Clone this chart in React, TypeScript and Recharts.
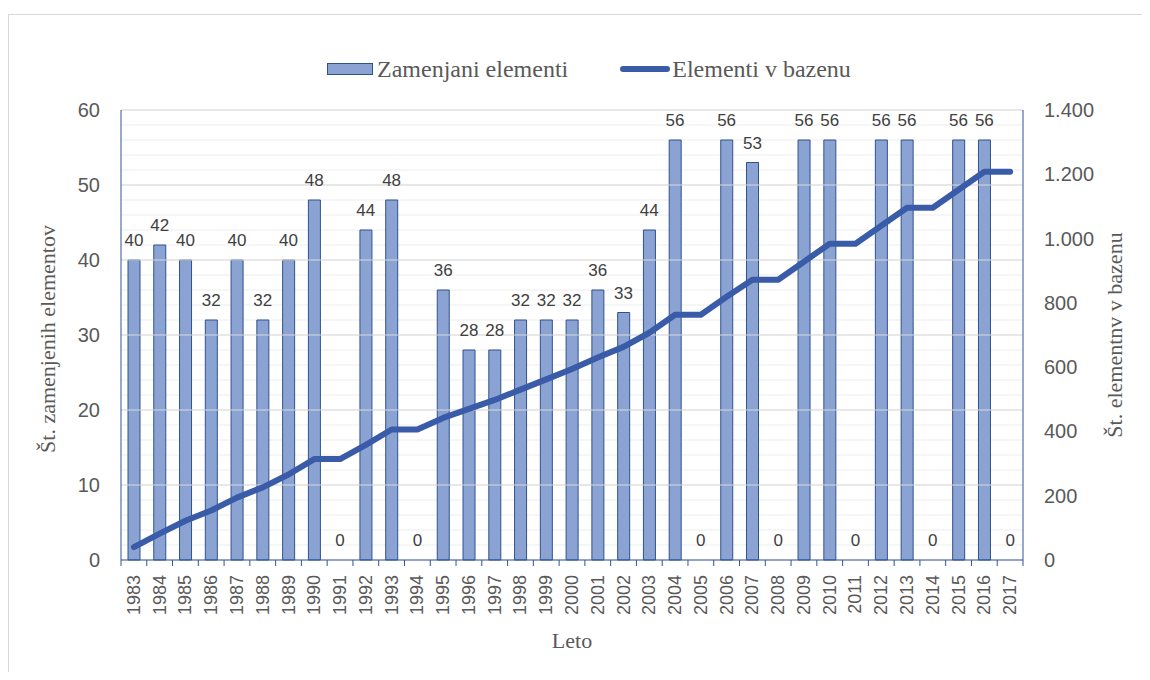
import React from 'react';
import { ComposedChart, Bar, Line, XAxis, YAxis, CartesianGrid, LabelList, ReferenceLine, Label } from 'recharts';

const years = ['1983','1984','1985','1986','1987','1988','1989','1990','1991','1992','1993','1994','1995','1996','1997','1998','1999','2000','2001','2002','2003','2004','2005','2006','2007','2008','2009','2010','2011','2012','2013','2014','2015','2016','2017'];
const replaced = [40,42,40,32,40,32,40,48,0,44,48,0,36,28,28,32,32,32,36,33,44,56,0,56,53,0,56,56,0,56,56,0,56,56,0];
const inPool = [40,82,122,154,194,226,266,314,314,358,406,406,442,470,498,530,562,594,630,663,707,763,763,819,872,872,928,984,984,1040,1096,1096,1152,1208,1208];
const leftTicks = [0,2,4,6,8,10,12,14,16,18,20,22,24,26,28,30,32,34,36,38,40,42,44,46,48,50,52,54,56,58,60];
const leftMajor = [10,20,30,40,50,60];
const rightTicks = [0,200,400,600,800,1000,1200,1400];

const seriesBarName = 'Zamenjani elementi';
const seriesLineName = 'Elementi v bazenu';
const leftTitle = 'Št. zamenjenih elementov';
const rightTitle = 'Št. elementnv v bazenu';
const xTitle = 'Leto';

const data = years.map((y, i) => ({ year: y, replaced: replaced[i], pool: inPool[i] }));

const AXIS = '#2f5597';
const BAR_FILL = '#8ba3d3';
const BAR_STROKE = '#2f528f';
const LINE = '#3a5ca8';
const TXT = '#595959';
const SANS = '"Liberation Sans", Arial, sans-serif';
const SERIF = '"Liberation Serif", "Times New Roman", serif';

const fmtDots = (v: number) => String(v).replace(/\B(?=(\d{3})+(?!\d))/g, '.');

const XTick = (props: any) => {
  const { x, y, payload, index, visibleTicksCount } = props;
  const off = payload && typeof payload.offset === 'number' ? payload.offset : 0;
  const axisY = y;
  const ty = axisY + 15;
  const last = index === (visibleTicksCount ?? years.length) - 1;
  return (
    <g>
      <line x1={x - off} x2={x - off} y1={axisY} y2={axisY + 6} stroke={AXIS} strokeWidth={1} />
      {last ? <line x1={x + off} x2={x + off} y1={axisY} y2={axisY + 6} stroke={AXIS} strokeWidth={1} /> : null}
      <text x={x} y={ty} transform={`rotate(-90, ${x}, ${ty})`} textAnchor="end" dominantBaseline="central" fill={TXT} fontSize={18} fontFamily={SANS}>
        {payload.value}
      </text>
    </g>
  );
};

const LeftTick = (props: any) => {
  const { x, y, payload } = props;
  if (payload.value % 10 !== 0) return <g />;
  return (
    <text x={x} y={y} textAnchor="end" dominantBaseline="central" fill={TXT} fontSize={20} fontFamily={SANS}>
      {payload.value}
    </text>
  );
};

const RightTick = (props: any) => {
  const { x, y, payload } = props;
  return (
    <text x={x} y={y} textAnchor="start" dominantBaseline="central" fill={TXT} fontSize={20} fontFamily={SANS}>
      {fmtDots(payload.value)}
    </text>
  );
};

const leftTitleContent = (props: any) => {
  const vb = props.viewBox || { x: 0, y: 102, width: 113, height: 450 };
  const cx = vb.x + 39;
  const cy = vb.y + vb.height / 2 + 4;
  return (
    <text x={cx} y={cy} transform={`rotate(-90, ${cx}, ${cy})`} textAnchor="middle" dominantBaseline="central" fill={TXT} fontSize={22} fontFamily={SERIF}>
      {leftTitle}
    </text>
  );
};

const rightTitleContent = (props: any) => {
  const vb = props.viewBox || { x: 1015, y: 102, width: 119, height: 450 };
  const cx = vb.x + 91;
  const cy = vb.y + vb.height / 2;
  return (
    <text x={cx} y={cy} transform={`rotate(-90, ${cx}, ${cy})`} textAnchor="middle" dominantBaseline="central" fill={TXT} fontSize={22} fontFamily={SERIF}>
      {rightTitle}
    </text>
  );
};

const xTitleContent = (props: any) => {
  const vb = props.viewBox || { x: 113, y: 552, width: 902, height: 112 };
  const cx = vb.x + vb.width / 2;
  const cy = vb.y + 80;
  return (
    <text x={cx} y={cy} textAnchor="middle" dominantBaseline="central" fill={TXT} fontSize={22} fontFamily={SERIF}>
      {xTitle}
    </text>
  );
};

export default function App() {
  return (
    <div style={{ position: 'relative', width: 1134, height: 664, overflow: 'hidden', background: '#fff' }}>
      <div style={{ position: 'absolute', left: 0, top: 6, width: 1200, height: 800, border: '1px solid #d9d9d9', boxSizing: 'border-box' }} />
      <div style={{ position: 'absolute', left: 319, top: 48, height: 26, display: 'flex', alignItems: 'center', fontFamily: SERIF, fontSize: 24, color: TXT, whiteSpace: 'nowrap' }}>
        <svg width={46} height={13} style={{ marginRight: 4 }}>
          <rect x={0.5} y={0.5} width={45} height={11} fill={BAR_FILL} stroke={BAR_STROKE} strokeWidth={1} />
        </svg>
        <span>{seriesBarName}</span>
        <svg width={50} height={10} style={{ marginLeft: 52, marginRight: 2 }}>
          <line x1={3} x2={47} y1={5} y2={5} stroke={LINE} strokeWidth={6} strokeLinecap="round" />
        </svg>
        <span>{seriesLineName}</span>
      </div>
      <div style={{ position: 'absolute', left: 0, top: 0 }}>
        <ComposedChart width={1134} height={664} data={data} margin={{ top: 102, right: 0, bottom: 0, left: 0 }} barSize={12}>
          <CartesianGrid yAxisId="left" vertical={false} stroke="#ededed" strokeWidth={1} />
          {leftMajor.map((v) => (
            <ReferenceLine key={v} yAxisId="left" y={v} stroke="#d9d9d9" strokeWidth={1} ifOverflow="visible" />
          ))}
          <XAxis dataKey="year" height={112} interval={0} tickLine={false} tickSize={0} tickMargin={0} axisLine={{ stroke: AXIS }} tick={<XTick />}>
            <Label content={xTitleContent} />
          </XAxis>
          <YAxis yAxisId="left" width={113} domain={[0, 60]} ticks={leftTicks} interval={0} tickLine={false} tickSize={6} tickMargin={15} axisLine={{ stroke: AXIS }} tick={<LeftTick />}>
            <Label content={leftTitleContent} />
          </YAxis>
          <YAxis yAxisId="right" orientation="right" width={119} domain={[0, 1400]} ticks={rightTicks} interval={0} tickLine={false} tickSize={6} tickMargin={15} axisLine={{ stroke: AXIS }} tick={<RightTick />}>
            <Label content={rightTitleContent} />
          </YAxis>
          <Bar yAxisId="left" dataKey="replaced" name={seriesBarName} fill={BAR_FILL} stroke={BAR_STROKE} strokeWidth={1} isAnimationActive={false} />
          <Line yAxisId="right" dataKey="pool" name={seriesLineName} stroke={LINE} strokeWidth={6} strokeLinecap="round" strokeLinejoin="round" dot={false} activeDot={false} isAnimationActive={false} />
          <Line yAxisId="left" dataKey="replaced" legendType="none" stroke="none" strokeWidth={0} dot={false} activeDot={false} isAnimationActive={false}>
            <LabelList dataKey="replaced" position="top" offset={14} fill="#404040" fontSize={17} fontFamily={SANS} />
          </Line>
        </ComposedChart>
      </div>
    </div>
  );
}
